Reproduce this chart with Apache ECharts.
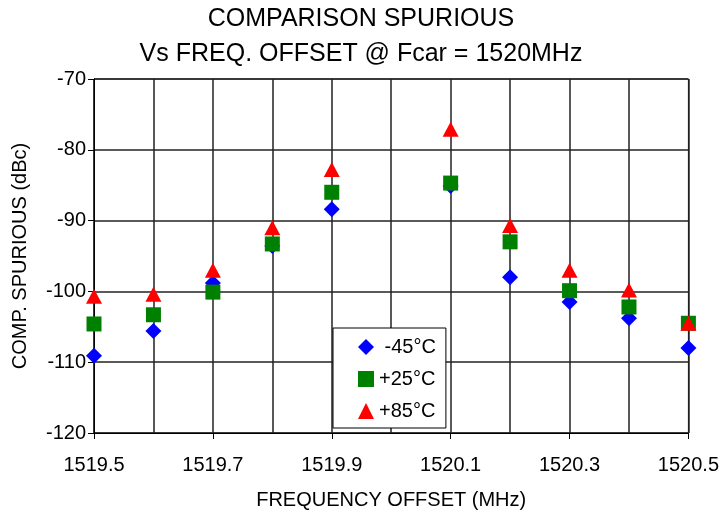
<!DOCTYPE html>
<html>
<head>
<meta charset="utf-8">
<script src="https://cdn.jsdelivr.net/npm/echarts@6/dist/echarts.min.js"></script>
<style>
  html, body { margin: 0; padding: 0; background: #fff; }
  #chart { width: 722px; height: 516px; }
</style>
</head>
<body>
<div id="chart"></div>
<script>
var freqs = [1519.5, 1519.6, 1519.7, 1519.8, 1519.9, 1520.1, 1520.2, 1520.3, 1520.4, 1520.5];
var minus45 = [-109.1, -105.6, -98.8, -93.6, -88.4, -85.1, -98.0, -101.5, -103.8, -108.0];
var plus25 = [-104.6, -103.3, -100.1, -93.3, -86.0, -84.7, -93.0, -99.9, -102.2, -104.5];
var plus85 = [-100.7, -100.4, -97.0, -91.0, -82.8, -77.1, -90.7, -97.0, -99.8, -104.5];

function pairs(ys) {
  return freqs.map(function (f, i) { return [f, ys[i]]; });
}

var chart = echarts.init(document.getElementById("chart"));
var font = "Liberation Sans";

chart.setOption({
  animation: false,
  title: {
    text: "COMPARISON SPURIOUS\nVs FREQ. OFFSET @ Fcar = 1520MHz",
    left: "center",
    top: -3,
    textStyle: {
      fontFamily: font,
      fontSize: 25,
      fontWeight: "normal",
      color: "#000",
      lineHeight: 35
    }
  },
  legend: {
    orient: "vertical",
    left: 333,
    top: 328,
    width: 126,
    padding: [9, 10, 7, 25],
    itemGap: 12,
    itemWidth: 16,
    itemHeight: 16,
    backgroundColor: "#fff",
    borderColor: "#000",
    borderWidth: 1,
    borderRadius: 0,
    formatter: function (n) { return n.charAt(0) === "-" ? " " + n : n; },
    textStyle: { fontFamily: font, fontSize: 20, color: "#000" }
  },
  grid: { left: 94, right: 32, top: 79, bottom: 83, show: true, borderColor: "#000", borderWidth: 1 },
  xAxis: {
    type: "value",
    min: 1519.5,
    max: 1520.5,
    interval: 0.2,
    name: "FREQUENCY OFFSET (MHz)",
    nameLocation: "middle",
    nameGap: 57,
    nameTextStyle: { fontFamily: font, fontSize: 20, color: "#000" },
    axisLine: { lineStyle: { color: "#000" } },
    axisTick: { show: true, length: 6, lineStyle: { color: "#000" } },
    minorTick: { show: false, splitNumber: 2 },
    axisLabel: {
      fontFamily: font,
      fontSize: 20,
      color: "#000",
      margin: 22,
      formatter: function (v) { return v.toFixed(1); }
    },
    splitLine: { lineStyle: { color: "#222", width: 1.5 } },
    minorSplitLine: { show: true, lineStyle: { color: "#222", width: 1.5 } }
  },
  yAxis: {
    type: "value",
    min: -120,
    max: -70,
    interval: 10,
    name: "COMP. SPURIOUS (dBc)",
    nameLocation: "middle",
    nameGap: 64,
    nameTextStyle: { fontFamily: font, fontSize: 20, color: "#000" },
    axisLine: { lineStyle: { color: "#000" } },
    axisTick: { show: true, length: 6, lineStyle: { color: "#000" } },
    axisLabel: { fontFamily: font, fontSize: 20, color: "#000", margin: 8 },
    splitLine: { lineStyle: { color: "#222", width: 1.5 } }
  },
  series: [
    {
      name: "-45°C",
      type: "scatter",
      symbol: "diamond",
      symbolSize: [16, 16],
      itemStyle: { color: "#0000ff", opacity: 1 },
      data: pairs(minus45)
    },
    {
      name: "+25°C",
      type: "scatter",
      symbol: "rect",
      symbolSize: [15, 15],
      itemStyle: { color: "#008000", opacity: 1 },
      data: pairs(plus25)
    },
    {
      name: "+85°C",
      type: "scatter",
      symbol: "triangle",
      symbolSize: [16, 15],
      itemStyle: { color: "#ff0000", opacity: 1 },
      data: pairs(plus85)
    }
  ]
});
</script>
</body>
</html>
